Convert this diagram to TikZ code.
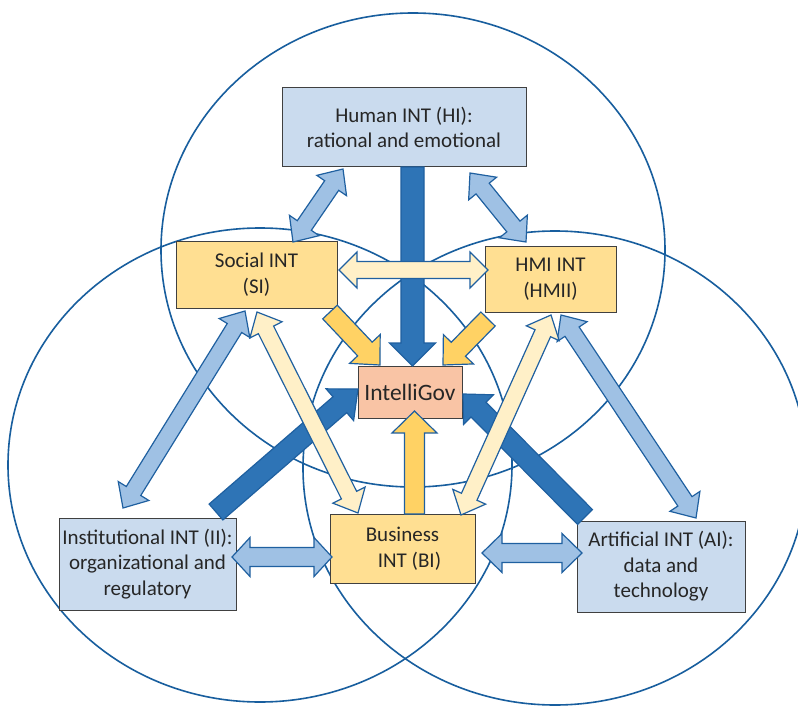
\documentclass[tikz,border=0pt]{standalone}
\usepackage{fontspec}
\setmainfont{Carlito}
\usetikzlibrary{calc}

\definecolor{circ}{RGB}{24,94,158}
\definecolor{edgeblue}{RGB}{31,96,160}
\definecolor{dkblue}{RGB}{46,116,182}
\definecolor{ltblue}{RGB}{159,193,228}
\definecolor{gold}{RGB}{255,210,100}
\definecolor{ltyellow}{RGB}{255,240,200}
\definecolor{boxblue}{RGB}{202,219,238}
\definecolor{boxyellow}{RGB}{255,223,146}
\definecolor{boxsalmon}{RGB}{249,196,165}
\definecolor{boxedge}{RGB}{64,64,64}
\definecolor{txt}{RGB}{38,38,38}

% single-headed block arrow: style, from, to, half shaft, half head, head length
\newcommand\oneway[6]{%
 \path[#1] let \p1=(#2),\p2=(#3),\n1={scalar(atan2(\y2-\y1,\x2-\x1))},\n2={veclen(\x2-\x1,\y2-\y1)-#6pt} in
  ($(\p1)+({\n1+90}:#4pt)$) -- ($(\p1)+(\n1:\n2)+({\n1+90}:#4pt)$) -- ($(\p1)+(\n1:\n2)+({\n1+90}:#5pt)$) -- (\p2) -- ($(\p1)+(\n1:\n2)+({\n1-90}:#5pt)$) -- ($(\p1)+(\n1:\n2)+({\n1-90}:#4pt)$) -- ($(\p1)+({\n1-90}:#4pt)$) -- cycle;}
% double-headed block arrow
\newcommand\twoway[6]{%
 \path[#1] let \p1=(#2),\p2=(#3),\n1={scalar(atan2(\y2-\y1,\x2-\x1))},\n2={veclen(\x2-\x1,\y2-\y1)-#6pt},\n3={#6pt} in
  (\p1) -- ($(\p1)+(\n1:\n3)+({\n1+90}:#5pt)$) -- ($(\p1)+(\n1:\n3)+({\n1+90}:#4pt)$) -- ($(\p1)+(\n1:\n2)+({\n1+90}:#4pt)$) -- ($(\p1)+(\n1:\n2)+({\n1+90}:#5pt)$) -- (\p2) -- ($(\p1)+(\n1:\n2)+({\n1-90}:#5pt)$) -- ($(\p1)+(\n1:\n2)+({\n1-90}:#4pt)$) -- ($(\p1)+(\n1:\n3)+({\n1-90}:#4pt)$) -- ($(\p1)+(\n1:\n3)+({\n1-90}:#5pt)$) -- cycle;}

\begin{document}
\begin{tikzpicture}[x=1pt,y=-1pt,
  ring/.style={draw=circ, line width=1.6pt},
  box/.style={draw=boxedge, line width=1pt, text=txt, align=center, inner sep=0pt,
    font=\fontsize{21}{25.5}\selectfont},
  arrdk/.style={fill=dkblue, draw=edgeblue, line width=1.2pt, line join=miter},
  arrgold/.style={fill=gold, draw=edgeblue, line width=1.2pt, line join=miter},
  arrlb/.style={fill=ltblue, draw=edgeblue, line width=1.2pt, line join=miter},
  arrly/.style={fill=ltyellow, draw=edgeblue, line width=1.2pt, line join=miter}]
\useasboundingbox (0,0) rectangle (798,706);
\fill[white] (0,0) rectangle (798,706);

% three overlapping rings
\draw[ring] (413,250) ellipse [x radius=252pt, y radius=237pt];
\draw[ring] (260,465) ellipse [x radius=252pt, y radius=237pt];
\draw[ring] (555,468) ellipse [x radius=252pt, y radius=237pt];

% boxes
\node[box, fill=boxblue, minimum width=244pt, minimum height=79pt] (HI) at (404,127.5) {Human INT (HI):\\rational and emotional};
\node[box, fill=boxyellow, minimum width=161pt, minimum height=67pt] (SI) at (256.5,274.5) {Social INT\\(SI)};
\node[box, fill=boxyellow, minimum width=131pt, minimum height=66pt] (HMI) at (550.5,279) {HMI INT\\(HMII)};
\node[box, fill=boxsalmon, minimum width=104pt, minimum height=52pt, font=\fontsize{23.5}{28}\selectfont] (IG) at (410,392) {IntelliGov};
\node[box, fill=boxblue, minimum width=177pt, minimum height=92pt] (II) at (147.5,564) {Institutional INT (II):\\organizational and\\regulatory};
\node[box, fill=boxyellow, minimum width=145pt, minimum height=69pt] (BI) at (402.5,548.5) {Business\\\hspace*{14pt}INT (BI)};
\node[box, fill=boxblue, minimum width=168pt, minimum height=91pt] (AI) at (661,566.5) {Artificial INT (AI):\\data and\\technology};

% arrow end points
\coordinate (hiA) at (412.5,167);  \coordinate (igA) at (412.5,366);
\coordinate (iiA) at (216,512);    \coordinate (igB) at (358,389);
\coordinate (aiA) at (585,517);    \coordinate (igC) at (463,394);
\coordinate (siA) at (330,312);    \coordinate (igD) at (380,365);
\coordinate (hmA) at (488,319);    \coordinate (igE) at (443,365);
\coordinate (biA) at (414.5,514);  \coordinate (igF) at (414.5,411);
\coordinate (siB) at (293,242);    \coordinate (hiB) at (343,169);
\coordinate (hmB) at (526,242);    \coordinate (hiC) at (470,173);
\coordinate (siC) at (245,311);    \coordinate (iiB) at (123,508);
\coordinate (hmC) at (561,315);    \coordinate (aiB) at (696,518);
\coordinate (iiC) at (232,557);    \coordinate (biB) at (332,557);
\coordinate (biC) at (482,553);    \coordinate (aiC) at (582,553);
\coordinate (siD) at (339,270);    \coordinate (hmD) at (488,270);
\coordinate (siE) at (257,312);    \coordinate (biD) at (358,513);
\coordinate (hmE) at (551,315);    \coordinate (biE) at (461,515);

% dark blue arrows
\oneway{arrdk}{hiA}{igA}{11.5}{23}{23}
\oneway{arrdk}{iiA}{igB}{10.5}{21}{24}
\oneway{arrdk}{aiA}{igC}{10.5}{21}{22}
% gold arrows
\oneway{arrgold}{siA}{igD}{10}{21}{22}
\oneway{arrgold}{hmA}{igE}{10}{21}{22}
\oneway{arrgold}{biA}{igF}{10}{22.5}{22}
% light blue double arrows
\twoway{arrlb}{siB}{hiB}{8.5}{18}{20}
\twoway{arrlb}{hmB}{hiC}{8.5}{18}{20}
\twoway{arrlb}{siC}{iiB}{8.5}{18}{20}
\twoway{arrlb}{hmC}{aiB}{8.5}{18}{20}
\twoway{arrlb}{iiC}{biB}{9.5}{19.5}{18}
\twoway{arrlb}{biC}{aiC}{9.5}{19.5}{20}
% light yellow double arrows
\twoway{arrly}{siD}{hmD}{8.5}{18}{18}
\twoway{arrly}{siE}{biD}{8.5}{18}{20}
\twoway{arrly}{hmE}{biE}{8.5}{18}{20}
\end{tikzpicture}
\end{document}
